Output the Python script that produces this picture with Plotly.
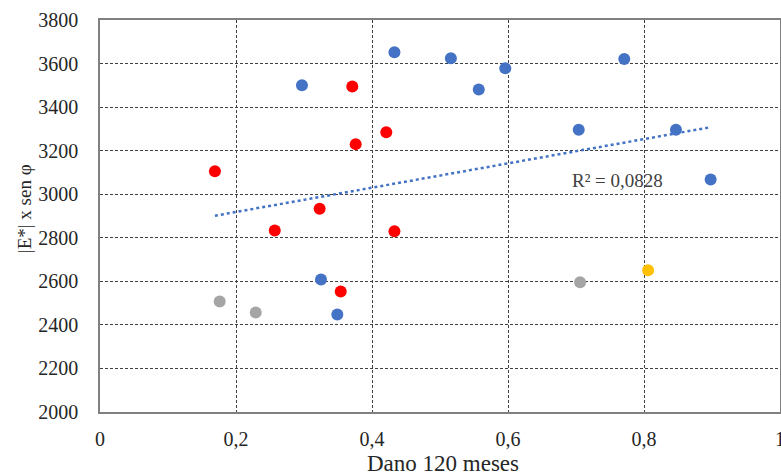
import numpy as np
import plotly.graph_objects as go

# Data
blue_x = [0.297, 0.433, 0.516, 0.557, 0.596, 0.771, 0.704, 0.847, 0.898, 0.325, 0.349]
blue_y = [3500, 3652, 3624, 3481, 3578, 3621, 3296, 3296, 3068, 2608, 2448]
red_x = [0.371, 0.421, 0.376, 0.169, 0.323, 0.257, 0.433, 0.354]
red_y = [3495, 3285, 3230, 3105, 2933, 2833, 2830, 2553]
gray_x = [0.176, 0.229, 0.706]
gray_y = [2507, 2457, 2596]
yellow_x = [0.806]
yellow_y = [2651]

x_ticks = [0, 0.2, 0.4, 0.6, 0.8, 1]
x_ticktext = ["0", "0,2", "0,4", "0,6", "0,8", "1"]
y_ticks = [2000, 2200, 2400, 2600, 2800, 3000, 3200, 3400, 3600, 3800]
y_ticktext = [str(v) for v in y_ticks]
r2_text = "R² = 0,0828"
x_title = "Dano 120 meses"
y_title = "|E*| x sen φ"

# linear trend over all points
all_x = np.array(blue_x + red_x + gray_x + yellow_x)
all_y = np.array(blue_y + red_y + gray_y + yellow_y)
slope, intercept = np.polyfit(all_x, all_y, 1)
tx = np.array([all_x.min(), all_x.max()])
ty = slope * tx + intercept

fig = go.Figure()
marker_size = 12
for xs, ys, col in [(blue_x, blue_y, "#4472C4"), (red_x, red_y, "#FF0000"),
                    (gray_x, gray_y, "#A5A5A5"), (yellow_x, yellow_y, "#FFC000")]:
    fig.add_trace(go.Scatter(x=xs, y=ys, mode="markers",
                             marker=dict(size=marker_size, color=col, line=dict(width=0)),
                             showlegend=False))

fig.add_trace(go.Scatter(x=tx, y=ty, mode="lines",
                         line=dict(color="#4472C4", width=2.5, dash="dot"),
                         showlegend=False))

font_family = "Liberation Serif, Times New Roman, serif"

fig.add_annotation(x=0.761, y=3065, text=r2_text, showarrow=False,
                   font=dict(family=font_family, size=19, color="#404040"))
fig.add_annotation(xref="paper", yref="paper", x=0.504, y=-0.132, text=x_title,
                   showarrow=False, xanchor="center", yanchor="middle",
                   font=dict(family=font_family, size=23, color="#262626"))
fig.add_annotation(xref="paper", yref="paper", x=-0.1118, y=0.52, text=y_title,
                   showarrow=False, textangle=-90, xanchor="center", yanchor="middle",
                   font=dict(family=font_family, size=19, color="#262626"))

fig.update_layout(
    width=781, height=475,
    margin=dict(l=100, r=1, t=20, b=63, autoexpand=False),
    paper_bgcolor="white", plot_bgcolor="white",
    font=dict(family=font_family, size=20, color="#262626"),
    separators=",.",
)
fig.update_xaxes(range=[0, 1], tickvals=x_ticks, ticktext=x_ticktext,
                 showgrid=True, gridcolor="#404040", gridwidth=1, griddash="3px,2px",
                 showline=True, linecolor="#808080", linewidth=1.5, mirror=True,
                 zeroline=False, ticks="", ticklabelstandoff=8, automargin=False,
                 ticklabeloverflow="allow")
fig.update_yaxes(range=[2000, 3800], tickvals=y_ticks, ticktext=y_ticktext,
                 showgrid=True, gridcolor="#404040", gridwidth=1, griddash="3px,2px",
                 showline=True, linecolor="#808080", linewidth=1.5, mirror=True,
                 zeroline=False, ticks="", ticklabelstandoff=16, automargin=False)

fig.write_html("out.html", config={"displayModeBar": False},
               post_script="document.body.style.margin='0';document.body.style.padding='0';")
